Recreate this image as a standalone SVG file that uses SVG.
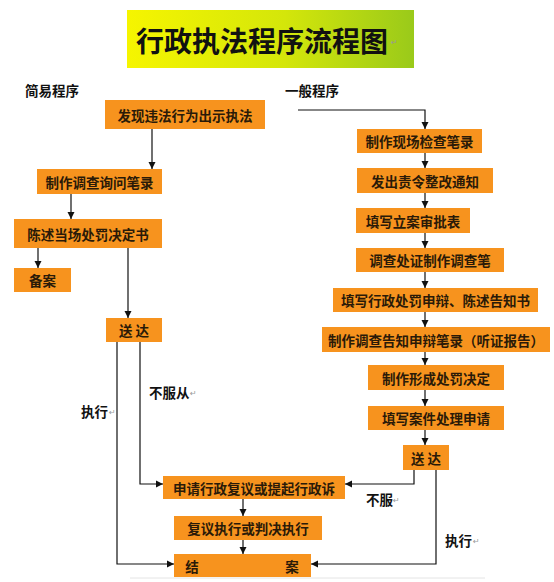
<svg xmlns="http://www.w3.org/2000/svg" width="554" height="582" viewBox="0 0 554 582">
<defs>
<linearGradient id="tg" x1="0" y1="0" x2="1" y2="0">
<stop offset="0" stop-color="#F6F500"/>
<stop offset="0.55" stop-color="#D4E60A"/>
<stop offset="1" stop-color="#9ACA1A"/>
</linearGradient>
<marker id="ah" markerWidth="8" markerHeight="8" refX="7" refY="4" orient="auto" markerUnits="userSpaceOnUse">
<path d="M0,0.5 L7,4 L0,7.5 Z" fill="#111"/>
</marker>
<style>
.box{fill:#F7931E;}
.bt{font-family:"Noto Sans CJK SC","Noto Sans",sans-serif;font-size:13.5px;font-weight:bold;fill:#2a1a08;text-anchor:middle;dominant-baseline:central;}
.lb{font-family:"Noto Sans CJK SC","Noto Sans",sans-serif;font-size:13.5px;font-weight:bold;fill:#111;dominant-baseline:central;}
.pm{font-family:"DejaVu Sans",sans-serif;font-size:8px;fill:#999;}
.c{fill:none;stroke:#111;stroke-width:1.2;}
.ca{fill:none;stroke:#111;stroke-width:1.2;marker-end:url(#ah);}
</style>
</defs>
<rect width="554" height="582" fill="#fff"/>
<g id="title">
<rect x="127" y="10" width="287" height="58" fill="url(#tg)"/>
<text x="262" y="40" style="font-family:'Noto Sans CJK SC','Noto Sans',sans-serif;font-size:28px;font-weight:bold;fill:#111;text-anchor:middle;dominant-baseline:central;">行政执法程序流程图</text>
<text x="391" y="45" class="pm">↵</text>
</g>
<g id="label-simple"><text x="25" y="90" class="lb">简易程序</text></g>
<g id="label-general"><text x="285" y="90" class="lb">一般程序</text></g>

<g id="n1"><rect class="box" x="105" y="100" width="160" height="29"/><text class="bt" x="185" y="114.5">发现违法行为出示执法</text></g>
<g id="n2"><rect class="box" x="37" y="169" width="125" height="25"/><text class="bt" x="99.5" y="181.5">制作调查询问笔录</text></g>
<g id="n3"><rect class="box" x="14" y="219" width="148" height="29"/><text class="bt" x="88" y="233.5">陈述当场处罚决定书</text></g>
<g id="n4"><rect class="box" x="14" y="268" width="57" height="24"/><text class="bt" x="42.5" y="280">备案</text></g>
<g id="n5"><rect class="box" x="106" y="318" width="56" height="24"/><text class="bt" x="134" y="330">送 达</text></g>

<g id="r1"><rect class="box" x="357" y="129" width="125" height="24"/><text class="bt" x="419.5" y="141">制作现场检查笔录</text></g>
<g id="r2"><rect class="box" x="357" y="168" width="136" height="25"/><text class="bt" x="425" y="180.5">发出责令整改通知</text></g>
<g id="r3"><rect class="box" x="356" y="208" width="114" height="25"/><text class="bt" x="413" y="220.5">填写立案审批表</text></g>
<g id="r4"><rect class="box" x="356" y="248" width="148" height="24"/><text class="bt" x="430" y="260">调查处证制作调查笔</text></g>
<g id="r5"><rect class="box" x="333" y="288" width="205" height="24"/><text class="bt" x="435.5" y="300">填写行政处罚申辩、陈述告知书</text></g>
<g id="r6"><rect class="box" x="322" y="327" width="228" height="25"/><text class="bt" x="436" y="339.5">制作调查告知申辩笔录（听证报告）</text></g>
<g id="r7"><rect class="box" x="368" y="365" width="136" height="25"/><text class="bt" x="436" y="377.5">制作形成处罚决定</text></g>
<g id="r8"><rect class="box" x="368" y="406" width="136" height="24"/><text class="bt" x="436" y="418">填写案件处理申请</text></g>
<g id="r9"><rect class="box" x="403" y="445" width="46" height="25"/><text class="bt" x="426" y="457.5">送 达</text></g>

<g id="m1"><rect class="box" x="163" y="476" width="182" height="23"/><text class="bt" x="254" y="487.5">申请行政复议或提起行政诉</text></g>
<g id="m2"><rect class="box" x="174" y="516" width="148" height="24"/><text class="bt" x="248" y="528">复议执行或判决执行</text></g>
<g id="m3"><rect class="box" x="174" y="554" width="137" height="23"/><text class="bt" x="192" y="565.5">结</text><text class="bt" x="292" y="565.5">案</text></g>

<g id="connectors">
<path class="ca" d="M152 129 V169"/>
<path class="ca" d="M71 194 V219"/>
<path class="ca" d="M38 248 V268"/>
<path class="ca" d="M128 248 V318"/>
<path class="ca" d="M140 342 V484 H163"/>
<path class="ca" d="M117 342 V564 H174"/>
<path class="ca" d="M298 110 H425 V129"/>
<path class="ca" d="M425 153 V168"/>
<path class="ca" d="M425 193 V208"/>
<path class="ca" d="M425 233 V248"/>
<path class="ca" d="M425 272 V288"/>
<path class="ca" d="M425 312 V327"/>
<path class="ca" d="M425 352 V365"/>
<path class="ca" d="M425 390 V406"/>
<path class="ca" d="M425 430 V445"/>
<path class="ca" d="M414 470 V484 H345"/>
<path class="ca" d="M436 470 V564 H311"/>
<path class="ca" d="M243 499 V516"/>
<path class="ca" d="M243 540 V554"/>
</g>
<g id="edge-labels">
<text x="149" y="392" class="lb">不服从</text><text x="190" y="396" class="pm">↵</text>
<text x="81" y="411" class="lb">执行</text><text x="109" y="415" class="pm">↵</text>
<text x="366" y="499" class="lb">不服</text><text x="393" y="503" class="pm">↵</text>
<text x="445" y="540" class="lb">执行</text><text x="473" y="544" class="pm">↵</text>
</g>
<line x1="130" y1="578" x2="485" y2="578" stroke="#e4e4e4" stroke-width="1"/>
</svg>
